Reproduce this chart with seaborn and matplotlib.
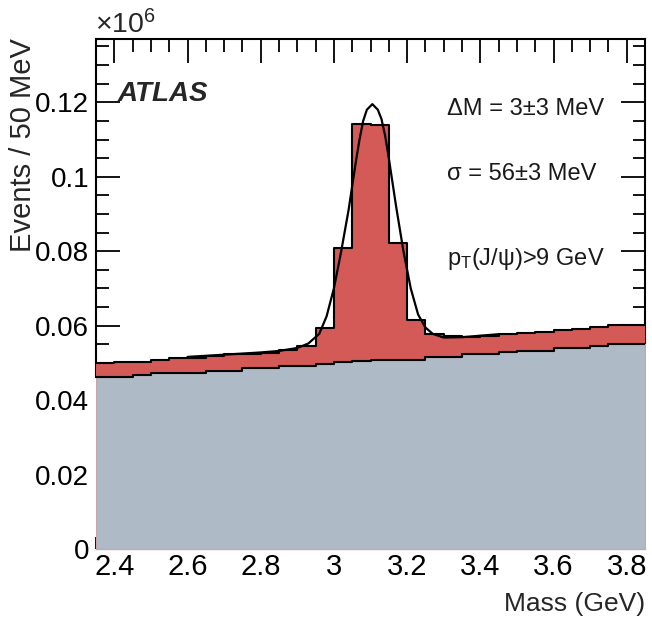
import numpy as np
import matplotlib
matplotlib.use("Agg")
import matplotlib.pyplot as plt
from matplotlib.ticker import MultipleLocator
import seaborn as sns

# ---- data ----
mass_centers = [2.375, 2.425, 2.475, 2.525, 2.575, 2.625, 2.675, 2.725, 2.775, 2.825,
                2.875, 2.925, 2.975, 3.025, 3.075, 3.125, 3.175, 3.225, 3.275, 3.325,
                3.375, 3.425, 3.475, 3.525, 3.575, 3.625, 3.675, 3.725, 3.775, 3.825]
bin_width = 0.05

# total (signal + background), in units of 10^6 events / 50 MeV
total = [0.0500, 0.0502, 0.0502, 0.0507, 0.0514, 0.0514, 0.0519, 0.0523, 0.0525, 0.0527,
         0.0535, 0.0545, 0.0593, 0.0808, 0.1143, 0.1138, 0.0821, 0.0615, 0.0577, 0.0572,
         0.0570, 0.0573, 0.0577, 0.0579, 0.0583, 0.0589, 0.0591, 0.0597, 0.0601, 0.0601]
# background only
background = [0.0461, 0.0461, 0.0467, 0.0472, 0.0472, 0.0472, 0.0478, 0.0478, 0.0485, 0.0485,
              0.0492, 0.0492, 0.0498, 0.0502, 0.0505, 0.0507, 0.0507, 0.0507, 0.0516, 0.0516,
              0.0523, 0.0523, 0.0528, 0.0532, 0.0532, 0.0539, 0.0539, 0.0545, 0.0550, 0.0551]

# fitted curve, points
fit_mass = [2.60, 2.65, 2.70, 2.75, 2.80, 2.85, 2.90, 2.93, 2.96, 2.98, 3.00, 3.02, 3.04,
            3.06, 3.07, 3.08, 3.09, 3.105, 3.12, 3.13, 3.14, 3.15, 3.17, 3.19, 3.21, 3.23,
            3.25, 3.27, 3.30, 3.35, 3.40, 3.45]
fit_val = [0.0516, 0.0519, 0.0522, 0.0525, 0.0528, 0.0532, 0.0540, 0.0552, 0.0578, 0.0625,
           0.0700, 0.0800, 0.0910, 0.1040, 0.1100, 0.1150, 0.1180, 0.1195, 0.1180, 0.1155,
           0.1110, 0.1050, 0.0920, 0.0800, 0.0700, 0.0630, 0.0595, 0.0578, 0.0568, 0.0569,
           0.0573, 0.0577]

x_ticks = [2.4, 2.6, 2.8, 3.0, 3.2, 3.4, 3.6, 3.8]
x_tick_labels = ["2.4", "2.6", "2.8", "3", "3.2", "3.4", "3.6", "3.8"]
y_ticks = [0, 0.02, 0.04, 0.06, 0.08, 0.10, 0.12]
y_tick_labels = ["0", "0.02", "0.04", "0.06", "0.08", "0.1", "0.12"]

annotations = ["ΔM = 3±3 MeV", "σ = 56±3 MeV", r"p$_{\mathrm{T}}$(J/ψ)>9 GeV"]

# ---- style ----
sns.set_theme(style="ticks")
plt.rcParams["font.family"] = ["Liberation Sans", "DejaVu Sans"]
plt.rcParams["mathtext.fontset"] = "custom"
plt.rcParams["mathtext.rm"] = "Liberation Sans"
plt.rcParams["mathtext.it"] = "Liberation Sans:italic"
plt.rcParams["mathtext.bf"] = "Liberation Sans:bold"

RED = "#D35A56"
GREY = "#AEBAC6"

bin_edges = [c - bin_width / 2 for c in mass_centers] + [mass_centers[-1] + bin_width / 2]
xmin, xmax = bin_edges[0], bin_edges[-1]
ymax = 0.137

fig = plt.figure(figsize=(6.52, 6.17), dpi=100)
ax = fig.add_axes([96 / 652, 1 - 549 / 617, 549 / 652, 510 / 617])

# red: total
sns.histplot(x=mass_centers, weights=total, bins=bin_edges, element="step", fill=True,
             color=RED, alpha=1, linewidth=0, ax=ax, zorder=3)
# grey: background on top
sns.histplot(x=mass_centers, weights=background, bins=bin_edges, element="step", fill=True,
             color=GREY, alpha=1, edgecolor="#C7A6AE", linewidth=1.0, ax=ax, zorder=3.1)
# outlines
sns.histplot(x=mass_centers, weights=total, bins=bin_edges, element="step", fill=False,
             color="black", linewidth=1.5, ax=ax, zorder=4)
sns.histplot(x=mass_centers, weights=background, bins=bin_edges, element="step", fill=False,
             color="black", linewidth=1.5, ax=ax, zorder=4)
# fit
sns.lineplot(x=fit_mass, y=fit_val, color="black", linewidth=1.6, ax=ax, zorder=5)

ax.set_xlim(xmin, xmax)
ax.set_ylim(0, ymax)
ax.set_xticks(x_ticks)
ax.set_xticklabels(x_tick_labels)
ax.set_yticks(y_ticks)
ax.set_yticklabels(y_tick_labels)
ax.xaxis.set_minor_locator(MultipleLocator(0.05))
ax.yaxis.set_minor_locator(MultipleLocator(0.005))
ax.tick_params(which="both", direction="in", top=True, right=True, width=1.3,
               colors="black")
ax.tick_params(which="major", length=17)
ax.tick_params(which="minor", length=9)
ax.tick_params(axis="x", which="major", labelsize=21, pad=3)
ax.tick_params(axis="y", which="major", labelsize=20, pad=5)
ax.set_xlabel("")
ax.set_ylabel("")

for s in ["top", "left", "right"]:
    ax.spines[s].set_color("black")
    ax.spines[s].set_linewidth(1.5)
ax.spines["left"].set_bounds(background[0], ymax)
ax.spines["right"].set_bounds(background[-1], ymax)
ax.spines["bottom"].set_color("#C7A6AE")
ax.spines["bottom"].set_linewidth(1.0)

# texts
fig.text(23 / 652, 1 - 38 / 617, "Events / 50 MeV", rotation=90, ha="center", va="top",
         fontsize=21)
fig.text(645 / 652, 1 - 611 / 617, "Mass (GeV)", ha="right", va="baseline", fontsize=19)
fig.text(95 / 652, 1 - 33 / 617, r"×10$^{6}$", ha="left", va="baseline", fontsize=20.5)
fig.text(118 / 652, 1 - 101 / 617, "ATLAS", ha="left", va="baseline", fontsize=20,
         fontweight="bold", fontstyle="italic")
for txt, yb in zip(annotations, [115, 180, 265]):
    fig.text(447 / 652, 1 - yb / 617, txt, ha="left", va="baseline", fontsize=17,
             color="#1a1a1a")

fig.savefig("out.png", dpi=100)
